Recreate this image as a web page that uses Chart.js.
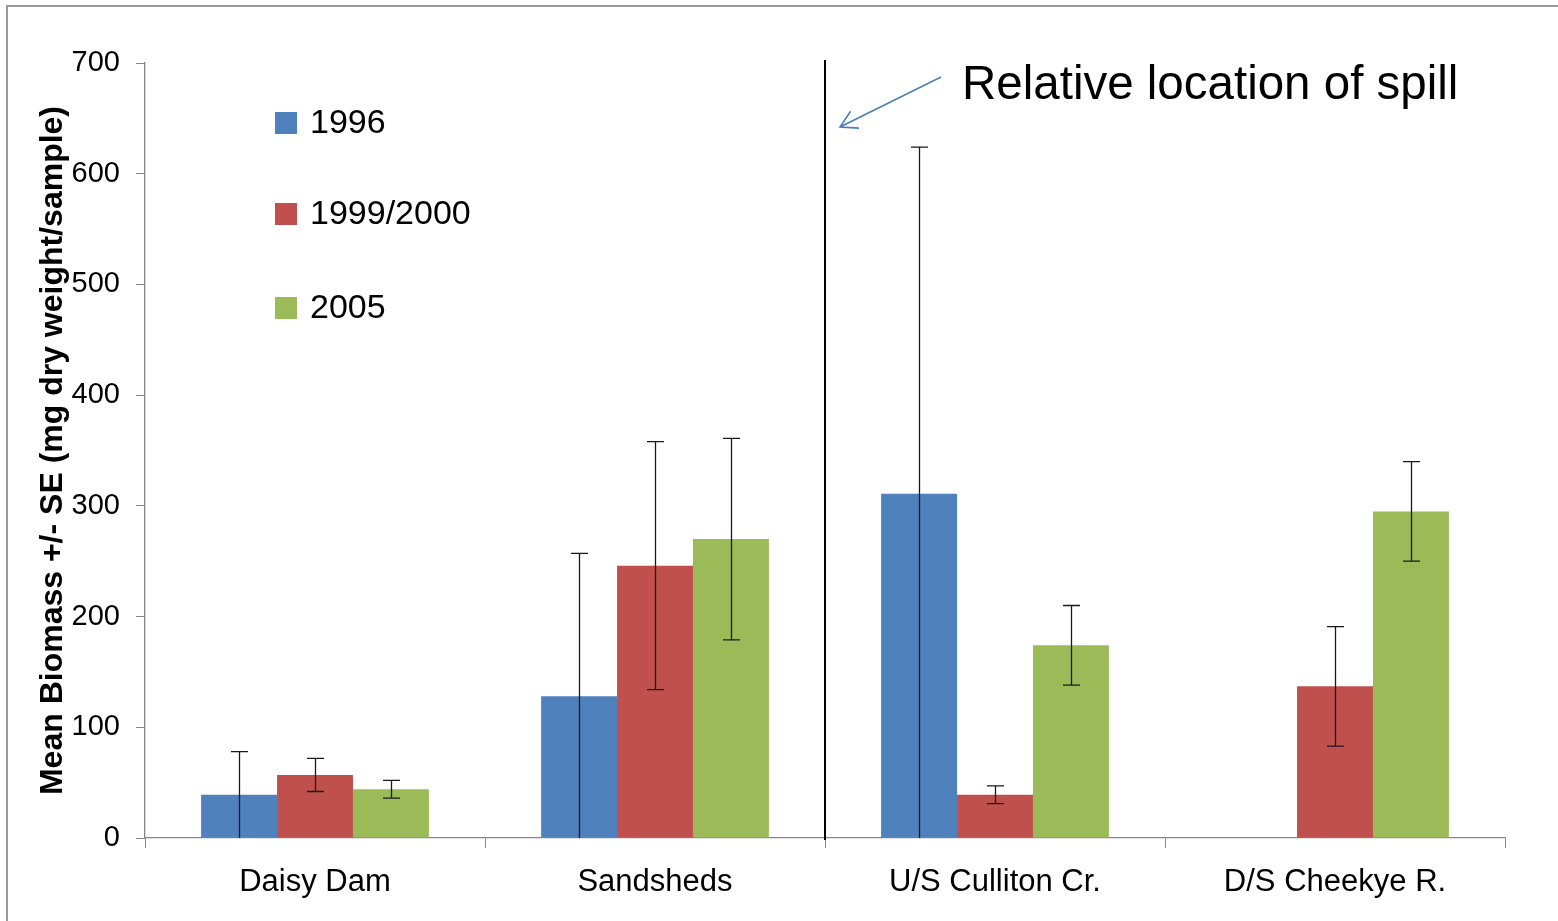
<!DOCTYPE html>
<html>
<head>
<meta charset="utf-8">
<script src="https://cdn.jsdelivr.net/npm/chart.js@4.4.1/dist/chart.umd.min.js"></script>
<style>
  html, body { margin: 0; padding: 0; background: #ffffff; }
  canvas { display: block; }
</style>
</head>
<body>
<canvas id="chart" width="1558" height="921"></canvas>
<script>
// Sampling sites, upstream to downstream
const sites = ['Daisy Dam', 'Sandsheds', 'U/S Culliton Cr.', 'D/S Cheekye R.'];
const years = ['1996', '1999/2000', '2005'];

// Mean biomass (mg dry weight/sample) per site and survey year
const biomass1996 = [39, 128, 311, null];
const biomass1999 = [57, 246, 39, 137];
const biomass2005 = [44, 270, 174, 295];

// Standard errors for the same cells
const se1996 = [39, 129, 313, null];
const se1999 = [15, 112, 8, 54];
const se2005 = [8, 91, 36, 45];

// Value axis
const yMin = 0;
const yMax = 700;
const yStep = 100;

const yTitle = 'Mean Biomass +/- SE (mg dry weight/sample)';
const spillNote = 'Relative location of spill';

const colours = ['#4F81BD', '#C0504D', '#9BBB59'];
const FONT = '"Liberation Sans", Arial, Helvetica, sans-serif';
const AXIS_GREY = '#868686';

// Frame around the whole figure
const frame = {
  id: 'frame',
  beforeDraw(chart) {
    const ctx = chart.ctx;
    ctx.save();
    ctx.fillStyle = '#ffffff';
    ctx.fillRect(0, 0, chart.width, chart.height);
    ctx.strokeStyle = '#9a9a9a';
    ctx.lineWidth = 2;
    ctx.strokeRect(7, 6, chart.width + 100, chart.height + 100);
    ctx.restore();
  }
};

// Symmetric SE whiskers; anything below zero is cut off at the axis
const errorBars = {
  id: 'errorBars',
  afterDatasetsDraw(chart) {
    const { ctx, chartArea: a, scales: { y } } = chart;
    ctx.save();
    ctx.beginPath();
    ctx.rect(a.left, a.top - 40, a.right - a.left, a.bottom - a.top + 40);
    ctx.clip();
    ctx.strokeStyle = '#1a1a1a';
    ctx.lineWidth = 1.3;
    const cap = 8.5;
    chart.data.datasets.forEach((ds, i) => {
      const meta = chart.getDatasetMeta(i);
      meta.data.forEach((bar, j) => {
        const v = ds.data[j];
        const e = ds.se[j];
        if (v == null || e == null) return;
        const x = Math.round(bar.x) + 0.5;
        const hi = y.getPixelForValue(v + e);
        const loVal = v - e;
        const lo = y.getPixelForValue(Math.max(loVal, yMin));
        ctx.beginPath();
        ctx.moveTo(x, hi);
        ctx.lineTo(x, lo);
        ctx.moveTo(x - cap, hi);
        ctx.lineTo(x + cap, hi);
        if (loVal > yMin) {
          ctx.moveTo(x - cap, lo);
          ctx.lineTo(x + cap, lo);
        }
        ctx.stroke();
      });
    });
    ctx.restore();
  }
};

// Spill marker line, arrow, note and the in-plot legend
const annotations = {
  id: 'annotations',
  afterDraw(chart) {
    const { ctx, chartArea: a, scales: { x } } = chart;
    const spillX = Math.round((x.getPixelForValue(1) + x.getPixelForValue(2)) / 2);
    ctx.save();

    // vertical spill line
    ctx.strokeStyle = '#000000';
    ctx.lineWidth = 2;
    ctx.beginPath();
    ctx.moveTo(spillX, a.top - 3);
    ctx.lineTo(spillX, a.bottom + 2);
    ctx.stroke();

    // arrow pointing at the line
    const tip = { x: spillX + 15, y: a.top + 64 };
    const tail = { x: spillX + 116, y: a.top + 14 };
    ctx.strokeStyle = '#4A7EBB';
    ctx.lineWidth = 1.6;
    ctx.beginPath();
    ctx.moveTo(tail.x, tail.y);
    ctx.lineTo(tip.x, tip.y);
    const ang = Math.atan2(tail.y - tip.y, tail.x - tip.x);
    const head = 19;
    const spread = 0.52;
    ctx.moveTo(tip.x + head * Math.cos(ang - spread), tip.y + head * Math.sin(ang - spread));
    ctx.lineTo(tip.x, tip.y);
    ctx.lineTo(tip.x + head * Math.cos(ang + spread), tip.y + head * Math.sin(ang + spread));
    ctx.stroke();

    // note text
    ctx.fillStyle = '#000000';
    ctx.font = '47.5px ' + FONT;
    ctx.textAlign = 'left';
    ctx.textBaseline = 'alphabetic';
    ctx.fillText(spillNote, spillX + 137, a.top + 36);

    // legend
    const rows = [60, 151, 245];
    ctx.font = '34px ' + FONT;
    ctx.textBaseline = 'middle';
    chart.data.datasets.forEach((ds, i) => {
      const cy = a.top + rows[i];
      ctx.fillStyle = ds.backgroundColor;
      ctx.fillRect(a.left + 130, cy - 11, 22, 22);
      ctx.fillStyle = '#000000';
      ctx.fillText(ds.label, a.left + 165, cy + 1);
    });

    ctx.restore();
  }
};

const seriesValues = [biomass1996, biomass1999, biomass2005];
const seriesErrors = [se1996, se1999, se2005];

new Chart(document.getElementById('chart'), {
  type: 'bar',
  data: {
    labels: sites,
    datasets: years.map((yr, i) => ({
      label: yr,
      data: seriesValues[i],
      se: seriesErrors[i],
      backgroundColor: colours[i],
      borderWidth: 0,
      barPercentage: 1.0,
      categoryPercentage: 0.67
    }))
  },
  options: {
    responsive: false,
    animation: false,
    devicePixelRatio: 1,
    layout: { padding: { left: 10, top: 63, right: 53, bottom: 0 } },
    plugins: {
      legend: { display: false },
      tooltip: { enabled: false }
    },
    scales: {
      x: {
        grid: {
          display: true,
          drawOnChartArea: false,
          drawTicks: true,
          tickLength: 10,
          color: AXIS_GREY,
          offset: true
        },
        border: { display: true, color: AXIS_GREY, width: 1.3 },
        ticks: {
          color: '#000000',
          font: { family: FONT, size: 31 },
          padding: 16,
          maxRotation: 0,
          autoSkip: false
        },
        afterFit(axis) { axis.height = 83; }
      },
      y: {
        min: yMin,
        max: yMax,
        grid: {
          display: true,
          drawOnChartArea: false,
          drawTicks: true,
          tickLength: 9,
          color: AXIS_GREY
        },
        border: { display: true, color: AXIS_GREY, width: 1.3 },
        ticks: {
          stepSize: yStep,
          color: '#000000',
          font: { family: FONT, size: 29 },
          padding: 16
        },
        title: {
          display: true,
          text: yTitle,
          color: '#000000',
          font: { family: FONT, size: 32, weight: 'bold' },
          padding: { top: 24, bottom: 0 }
        },
        afterFit(axis) { axis.width = 135; }
      }
    }
  },
  plugins: [frame, errorBars, annotations]
});
</script>
</body>
</html>
